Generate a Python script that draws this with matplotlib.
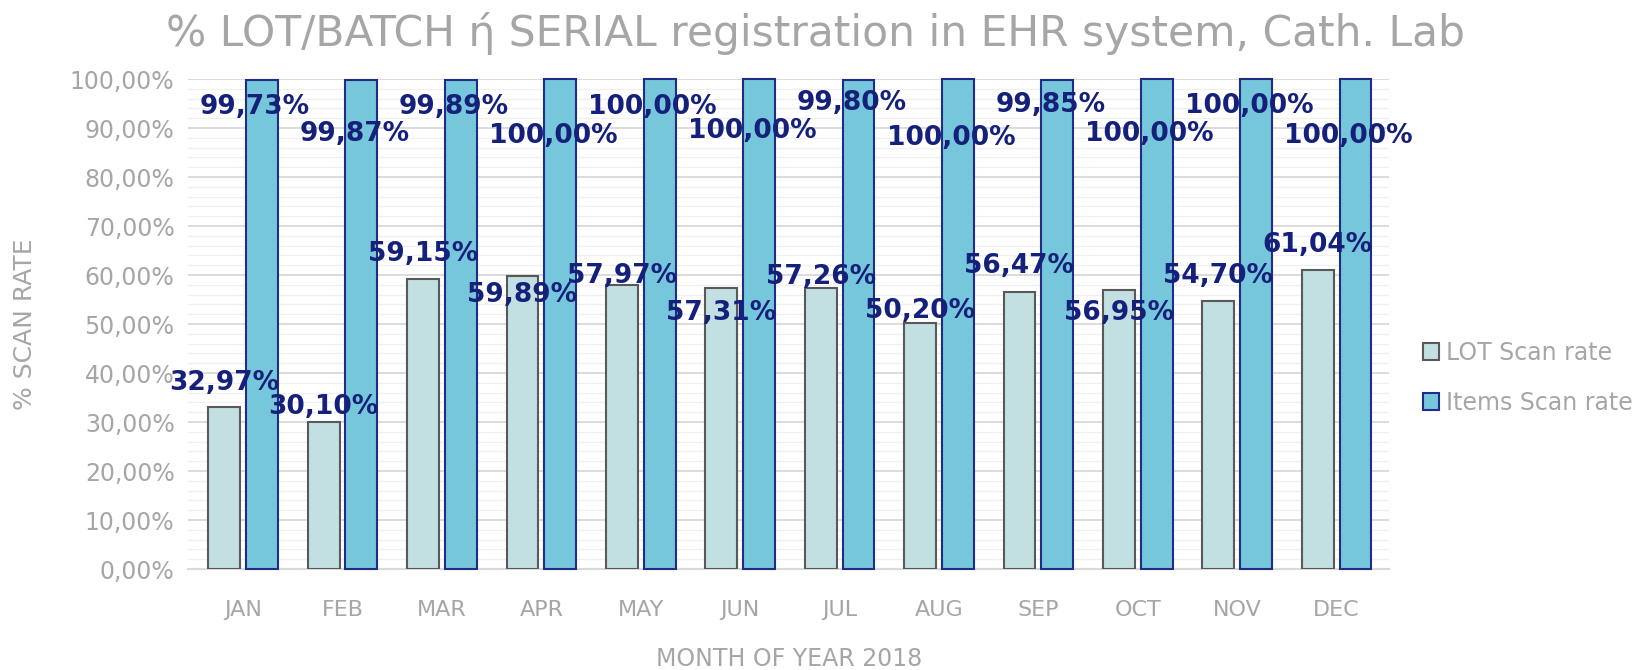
import matplotlib.pyplot as plt
import numpy as np
from matplotlib.ticker import MultipleLocator, FuncFormatter

months = ["JAN", "FEB", "MAR", "APR", "MAY", "JUN", "JUL", "AUG", "SEP", "OCT", "NOV", "DEC"]
lot_rate = [32.97, 30.10, 59.15, 59.89, 57.97, 57.31, 57.26, 50.20, 56.47, 56.95, 54.70, 61.04]
items_rate = [99.73, 99.87, 99.89, 100.00, 100.00, 100.00, 99.80, 100.00, 99.85, 100.00, 100.00, 100.00]

# label placement (offsets from bar top, in % units) - labels overlap like in the source
lot_dy = [5.0, 3.0, 5.1, -3.9, 1.9, -5.1, 2.4, 2.4, 5.4, -4.7, 5.1, 5.1]
items_dy = [-5.5, -11.0, -5.6, -11.6, -5.8, -10.5, -4.7, -12.0, -5.2, -11.2, -5.6, -11.6]

gray = "#A6A6A6"
navy = "#14207A"


def pct(v):
    return ("%.2f%%" % v).replace(".", ",")


fig = plt.figure(figsize=(16.5, 6.7), dpi=100)
ax = fig.add_axes([0.1142, 0.1507, 0.7278, 0.7313])

x = np.arange(len(months))
w = 0.32
off = 0.19
ax.bar(x - off, lot_rate, w, color="#C2DFE2", edgecolor="#595959", linewidth=1.5,
       label="LOT Scan rate", zorder=3)
ax.bar(x + off, items_rate, w, color="#76C7DB", edgecolor="#1F2D86", linewidth=1.5,
       label="Items Scan rate", zorder=3, clip_on=False)

for i in range(len(months)):
    ax.text(x[i] - off, lot_rate[i] + lot_dy[i], pct(lot_rate[i]), ha="center", va="center",
            fontsize=19, fontweight="bold", color=navy, zorder=5)
    ax.text(x[i] + off - 0.07, items_rate[i] + items_dy[i], pct(items_rate[i]), ha="center",
            va="center", fontsize=19, fontweight="bold", color=navy, zorder=5)

ax.set_xlim(-0.55, len(months) - 0.47)
ax.set_ylim(0, 100)
ax.yaxis.set_major_locator(MultipleLocator(10))
ax.yaxis.set_minor_locator(MultipleLocator(2))
ax.yaxis.set_major_formatter(FuncFormatter(lambda v, p: pct(v)))
ax.grid(axis="y", which="major", color="#D9D9D9", linewidth=1.3, zorder=0)
ax.grid(axis="y", which="minor", color="#F0F0F0", linewidth=1.0, zorder=0)
ax.set_axisbelow(True)

ax.set_xticks(x)
ax.set_xticklabels(months)
ax.tick_params(axis="both", which="both", length=0, colors=gray, labelsize=17)
ax.tick_params(axis="x", pad=22, labelsize=16)
ax.tick_params(axis="y", pad=10)

for s in ["top", "right", "left"]:
    ax.spines[s].set_visible(False)
ax.spines["bottom"].set_color("#D9D9D9")
ax.spines["bottom"].set_linewidth(1.5)

ax.set_xlabel("MONTH OF YEAR 2018", color=gray, fontsize=17, labelpad=20)
ax.set_ylabel("% SCAN RATE", color=gray, fontsize=18, labelpad=24)
fig.suptitle("% LOT/BATCH ή SERIAL registration in EHR system, Cath. Lab", color=gray,
             fontsize=30.5, x=0.494, y=0.982)

leg = ax.legend(loc="center left", bbox_to_anchor=(1.01, 0.39), frameon=False, fontsize=17,
                handlelength=0.7, handleheight=0.7, handletextpad=0.3, labelspacing=1.1)
for t in leg.get_texts():
    t.set_color(gray)

fig.savefig("out.png", dpi=100)
